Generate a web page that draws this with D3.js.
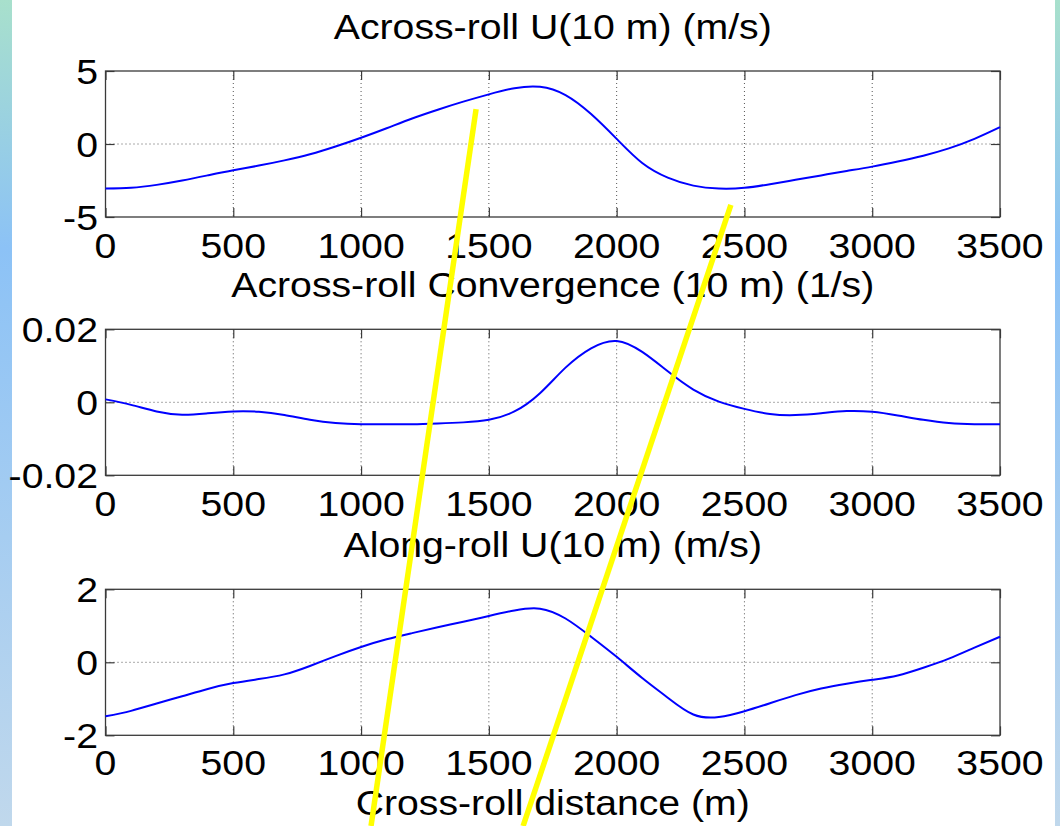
<!DOCTYPE html>
<html>
<head>
<meta charset="utf-8">
<script src="https://cdn.jsdelivr.net/npm/d3@7"></script>
<style>
  html, body { margin: 0; padding: 0; background: #ffffff; }
  svg { display: block; }
  text { font-family: "Liberation Sans", Arial, Helvetica, sans-serif; fill: #000; }
</style>
</head>
<body>
<script>
// Cross-roll distance (m), sampled every 100 m
const distance = d3.range(0, 3501, 100);

// Across-roll U(10 m) (m/s)
const acrossU = [-3.05, -3.0, -2.8, -2.5, -2.15, -1.8, -1.48, -1.12, -0.7, -0.17,
  0.43, 1.08, 1.75, 2.35, 2.9, 3.4, 3.82, 3.92, 3.35, 2.05,
  0.35, -1.3, -2.3, -2.85, -3.05, -3.0, -2.75, -2.45, -2.15, -1.85,
  -1.55, -1.2, -0.8, -0.3, 0.35, 1.15];

// Across-roll convergence (10 m) (1/s)
const convergence = [0.0008, -0.0007, -0.0025, -0.0034, -0.003, -0.0025, -0.0026, -0.0035, -0.0048, -0.0057,
  -0.006, -0.006, -0.006, -0.0058, -0.0055, -0.0048, -0.0025, 0.0025, 0.0095, 0.0148,
  0.0168, 0.0138, 0.0085, 0.0035, 0.0002, -0.0018, -0.0032, -0.0035, -0.003, -0.0024,
  -0.0026, -0.0036, -0.0048, -0.0057, -0.006, -0.006];

// Along-roll U(10 m) (m/s)
const alongU = [-1.48, -1.33, -1.13, -0.93, -0.73, -0.57, -0.46, -0.33, -0.1, 0.17,
  0.42, 0.63, 0.8, 0.96, 1.11, 1.27, 1.42, 1.47, 1.2, 0.7,
  0.15, -0.43, -0.97, -1.43, -1.5, -1.34, -1.12, -0.9, -0.72, -0.59,
  -0.48, -0.36, -0.15, 0.1, 0.4, 0.7];

// Axis ticks
const xTicks = [0, 500, 1000, 1500, 2000, 2500, 3000, 3500];
const panelTitles = ["Across-roll U(10 m) (m/s)", "Across-roll Convergence (10 m) (1/s)", "Along-roll U(10 m) (m/s)"];
const yDomains = [[-5, 5], [-0.02, 0.02], [-2, 2]];
const yTicks = [[-5, 0, 5], [-0.02, 0, 0.02], [-2, 0, 2]];
const yTickLabels = [["-5", "0", "5"], ["-0.02", "0", "0.02"], ["-2", "0", "2"]];
const xLabel = "Cross-roll distance (m)";

// Hand-drawn roll boundary lines: [distance, fraction of page height]
const rollEdgeA = [[1450, 0.132], [1039, 1.0]];
const rollEdgeB = [[2447, 0.248], [1634, 1.0]];

const W = 1060, H = 826;
const svg = d3.select("body").append("svg").attr("width", W).attr("height", H);

// Slide side bands
const defs = svg.append("defs");
const grad = defs.append("linearGradient").attr("id", "band").attr("x1", 0).attr("y1", 0).attr("x2", 0).attr("y2", 1);
grad.append("stop").attr("offset", "0%").attr("stop-color", "#a8e0cc");
grad.append("stop").attr("offset", "30%").attr("stop-color", "#8cc2f6");
grad.append("stop").attr("offset", "100%").attr("stop-color", "#c0d8ec");
svg.append("rect").attr("x", 0).attr("y", 0).attr("width", 12).attr("height", H).attr("fill", "url(#band)");
svg.append("rect").attr("x", 1055).attr("y", 0).attr("width", 5).attr("height", H).attr("fill", "url(#band)");

const left = 105.5, right = 1000;
const panelTops = [71, 329.3, 589.3];
const panelH = 146;
const FS = 36, SX = 1.09;
const axisColor = "#3a3a3a";

const x = d3.scaleLinear().domain([0, 3500]).range([left, right]);
const series = [acrossU, convergence, alongU];

function stretchedText(g, tx, ty, str, anchor, fs = FS, sx = SX) {
  return g.append("text")
    .attr("transform", `translate(${tx},${ty}) scale(${sx},1)`)
    .attr("text-anchor", anchor)
    .style("font-size", fs + "px")
    .text(str);
}

panelTops.forEach((top, i) => {
  const y = d3.scaleLinear().domain(yDomains[i]).range([top + panelH, top]);
  const g = svg.append("g");

  // dotted grid
  g.selectAll(".gx").data(xTicks.slice(1, -1)).join("line")
    .attr("x1", d => x(d)).attr("x2", d => x(d))
    .attr("y1", top).attr("y2", top + panelH)
    .attr("stroke", "#555").attr("stroke-width", 1).attr("stroke-dasharray", "1,3");
  g.selectAll(".gy").data(yTicks[i].slice(1, -1)).join("line")
    .attr("x1", left).attr("x2", right)
    .attr("y1", d => y(d)).attr("y2", d => y(d))
    .attr("stroke", "#555").attr("stroke-width", 1).attr("stroke-dasharray", "1,3");

  // inward ticks on all four sides
  const tl = 9;
  const bottomAxis = d3.axisBottom(x).tickValues(xTicks).tickSize(-tl).tickFormat("");
  const topAxis = d3.axisTop(x).tickValues(xTicks).tickSize(-tl).tickFormat("");
  const leftAxis = d3.axisLeft(y).tickValues(yTicks[i]).tickSize(-tl).tickFormat("");
  const rightAxis = d3.axisRight(y).tickValues(yTicks[i]).tickSize(-tl).tickFormat("");
  [[bottomAxis, `translate(0,${top + panelH})`], [topAxis, `translate(0,${top})`],
   [leftAxis, `translate(${left},0)`], [rightAxis, `translate(${right},0)`]].forEach(([ax, tr]) => {
    const a = g.append("g").attr("transform", tr).call(ax);
    a.select(".domain").remove();
    a.selectAll("line").attr("stroke", axisColor).attr("stroke-width", 1.2);
  });

  // box
  g.append("rect").attr("x", left).attr("y", top).attr("width", right - left).attr("height", panelH)
    .attr("fill", "none").attr("stroke", axisColor).attr("stroke-width", 1.3);

  // data curve
  const line = d3.line().x((d, k) => x(distance[k])).y(d => y(d)).curve(d3.curveNatural);
  g.append("path").datum(series[i]).attr("d", line)
    .attr("fill", "none").attr("stroke", "#0000ff").attr("stroke-width", 2);

  // title
  stretchedText(g, (left + right) / 2, top - 32, panelTitles[i], "middle");

  // x tick labels
  const tickGap = i === 2 ? 40 : 41;
  xTicks.forEach(t => stretchedText(g, x(t), top + panelH + tickGap, String(t), "middle"));

  // y tick labels
  yTicks[i].forEach((t, k) => stretchedText(g, 98, y(t) + 12.5, yTickLabels[i][k], "end"));
});

// x axis label
stretchedText(svg, (left + right) / 2, 815, xLabel, "middle", 35, 1.12);

// yellow roll boundary lines drawn over the panels
const pageY = d3.scaleLinear().domain([0, 1]).range([0, H]);
const edgeLine = d3.line().x(d => x(d[0])).y(d => pageY(d[1]));
[rollEdgeA, rollEdgeB].forEach(seg => {
  svg.append("path").datum(seg).attr("d", edgeLine)
    .attr("fill", "none").attr("stroke", "#ffff00").attr("stroke-width", 5.5).attr("stroke-linecap", "butt");
});
</script>
</body>
</html>
